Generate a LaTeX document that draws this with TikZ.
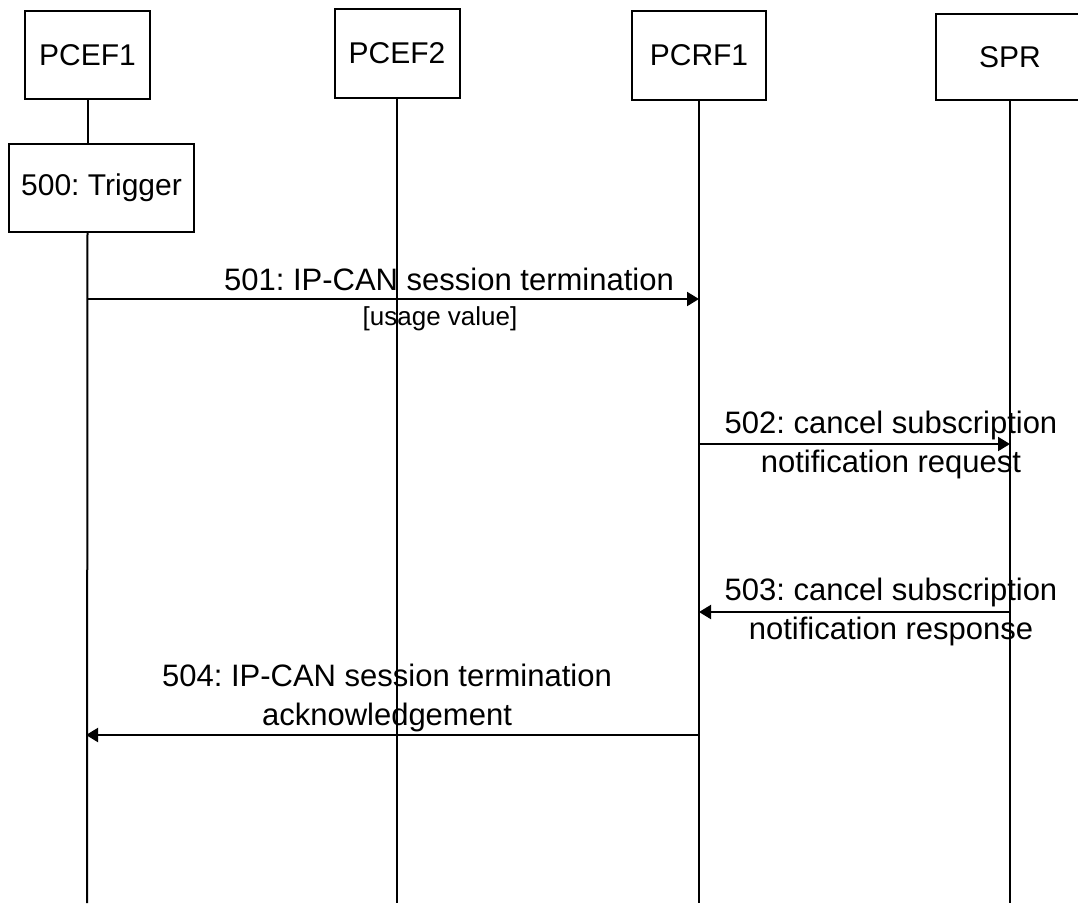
\documentclass[tikz,border=0pt]{standalone}
\usepackage{fontspec}
\setmainfont{Liberation Sans}
\usetikzlibrary{arrows.meta}
\begin{document}
\frenchspacing
\begin{tikzpicture}[x=1pt,y=-1pt,
  ent/.style={draw,line width=2pt,inner sep=0pt,font=\fontsize{30}{32}\selectfont},
  life/.style={line width=2pt},
  msg/.style={line width=2pt,-{Triangle[length=12pt,width=14pt]}},
  lbl/.style={inner sep=0pt,align=center,font=\fontsize{31}{39}\selectfont},
  small/.style={inner sep=0pt,font=\fontsize{26}{28}\selectfont}]
\useasboundingbox[fill=white] (0,0) rectangle (1078,903);
% entity boxes
\node[ent,minimum width=125pt,minimum height=88pt] (pcef1) at (87.5,55) {PCEF1};
\node[ent,minimum width=125pt,minimum height=89pt] (pcef2) at (397,53.5) {PCEF2};
\node[ent,minimum width=134pt,minimum height=89pt] (pcrf1) at (699,55.5) {PCRF1};
\node[ent,minimum width=148pt,minimum height=86pt] (spr) at (1010,57) {SPR};
\node[ent,minimum width=185pt,minimum height=88pt] (trig) at (101.5,188) {500: Trigger};
% lifeline ends
\coordinate (e1) at (87,903);
\coordinate (e2) at (397,903);
\coordinate (e3) at (699,903);
\coordinate (e4) at (1010,903);
\draw[life] (pcef1.south) -- (pcef1.south |- trig.north);
\draw[life] (pcef1.south |- trig.south) -- (e1);
\draw[life] (pcef2.south) -- (e2);
\draw[life] (pcrf1.south) -- (e3);
\draw[life] (spr.south) -- (e4);
% message points
\coordinate (a1) at (87,299);  \coordinate (b1) at (699,299);
\coordinate (a2) at (699,444); \coordinate (b2) at (1010,444);
\coordinate (a3) at (1010,612); \coordinate (b3) at (699,612);
\coordinate (a4) at (699,735); \coordinate (b4) at (86,735);
\draw[msg] (a1) -- (b1);
\draw[msg] (a2) -- (b2);
\draw[msg] (a3) -- (b3);
\draw[msg] (a4) -- (b4);
% labels
\node[lbl] (l1) at (449,279) {501: IP-CAN session termination};
\node[small] (l1b) at (440,319) {[usage value]};
\node[lbl] (l2) at (891,445) {502: cancel subscription\\notification request};
\node[lbl] (l3) at (891,612) {503: cancel subscription\\notification response};
\node[lbl] (l4) at (387,698) {504: IP-CAN session termination\\acknowledgement};
\end{tikzpicture}
\end{document}
